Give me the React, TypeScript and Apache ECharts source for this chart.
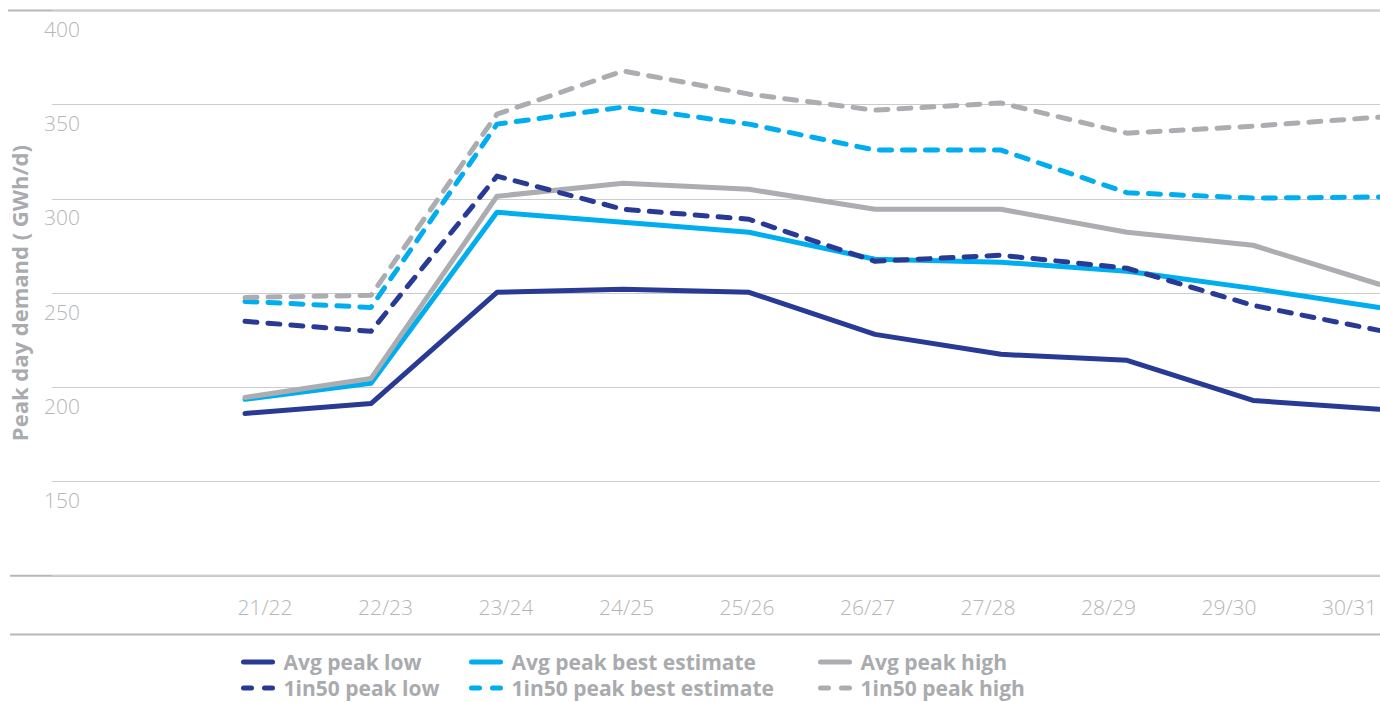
import React, { useEffect, useRef } from "react";
import * as echarts from "echarts";

const categories = ["21/22", "22/23", "23/24", "24/25", "25/26", "26/27", "27/28", "28/29", "29/30", "30/31"];
const avgPeakLow = [186.1, 191.4, 250.4, 252.0, 250.4, 228.1, 217.5, 214.3, 193.0, 188.3];
const avgPeakBest = [193.6, 202.1, 292.9, 287.6, 282.3, 268.0, 266.4, 261.6, 252.5, 242.4];
const avgPeakHigh = [194.6, 204.7, 301.4, 308.3, 305.1, 294.5, 294.5, 282.3, 275.4, 254.7];
const in50PeakLow = [235.0, 229.7, 312.1, 294.5, 289.2, 266.9, 270.1, 263.2, 243.5, 230.2];
const in50PeakBest = [245.6, 242.4, 339.7, 348.7, 339.7, 325.9, 325.9, 303.3, 300.4, 301.0];
const in50PeakHigh = [247.7, 248.8, 345.0, 367.9, 355.6, 347.1, 350.9, 334.9, 338.6, 343.4];

const seriesNames = [
  "Avg peak low",
  "Avg peak best estimate",
  "Avg peak high",
  "1in50 peak low",
  "1in50 peak best estimate",
  "1in50 peak high",
];
const seriesData = [avgPeakLow, avgPeakBest, avgPeakHigh, in50PeakLow, in50PeakBest, in50PeakHigh];

const NAVY = "#283a94";
const CYAN = "#00aeef";
const GREY = "#abadb0";
const seriesColors = [NAVY, CYAN, GREY, NAVY, CYAN, GREY];
const seriesDashed = [false, false, false, true, true, true];

const FONT = "'Open Sans', 'Noto Sans', sans-serif";
const LABEL_GREY = "#b4b6b8";
const TEXT_GREY = "#a9abae";

export default function App() {
  const ref = useRef<HTMLDivElement>(null);

  useEffect(() => {
    if (!ref.current) return;
    const chart = echarts.init(ref.current, undefined, { renderer: "svg" });

    const top = 10.5;
    const bottom = 702 - 575.7;

    const legendLefts = [241, 469, 818];
    const legendTops = [651, 677];

    const option: any = {
      animation: false,
      backgroundColor: "#ffffff",
      textStyle: { fontFamily: FONT },
      grid: [
        { left: 45, right: 0, top, bottom, containLabel: false },
        { left: 245, right: 1, top, bottom, containLabel: false },
        { left: 265, right: 24, top, bottom, containLabel: false },
      ],
      xAxis: [
        { type: "value", gridIndex: 0, show: false, min: 0, max: 1 },
        {
          type: "category",
          gridIndex: 1,
          data: categories,
          boundaryGap: false,
          show: false,
        },
        {
          type: "category",
          gridIndex: 2,
          data: categories,
          boundaryGap: false,
          axisLine: { show: false },
          axisTick: { show: false },
          splitLine: { show: false },
          axisLabel: {
            show: true,
            interval: 0,
            margin: 21,
            color: LABEL_GREY,
            fontSize: 21,
            fontWeight: 300,
            fontFamily: FONT,
          },
        },
      ],
      yAxis: [
        {
          type: "value",
          gridIndex: 0,
          min: 100,
          max: 400,
          interval: 50,
          axisLine: { show: false },
          axisTick: { show: false },
          splitLine: { show: true, lineStyle: { color: "#cbcccd", width: 1 } },
          axisLabel: {
            inside: true,
            margin: -8,
            align: "left",
            verticalAlign: "top",
            padding: [8, 0, 0, 0],
            color: LABEL_GREY,
            fontSize: 21,
            fontWeight: 300,
            fontFamily: FONT,
            formatter: (v: number) => (v === 100 ? "" : String(v)),
          },
          name: "Peak day demand ( GWh/d)",
          nameLocation: "middle",
          nameGap: 22,
          nameRotate: 90,
          nameTextStyle: {
            color: TEXT_GREY,
            fontSize: 22,
            fontWeight: "bold",
            fontFamily: FONT,
          },
        },
        { type: "value", gridIndex: 1, min: 100, max: 400, show: false },
        { type: "value", gridIndex: 2, min: 100, max: 400, show: false },
      ],
      legend: seriesNames.map((name, i) => ({
        show: true,
        data: [name],
        left: legendLefts[i % 3],
        top: legendTops[Math.floor(i / 3)],
        orient: "horizontal",
        itemWidth: 29,
        itemHeight: 5,
        padding: 0,
        selectedMode: false,
        itemStyle: { opacity: 0, borderWidth: 0 },
        lineStyle: {
          width: 5,
          cap: "round",
          color: seriesColors[i],
          type: seriesDashed[i] ? [8, 13] : "solid",
        },
        textStyle: {
          color: TEXT_GREY,
          fontSize: 21,
          lineHeight: 22,
          fontWeight: "bold",
          fontFamily: FONT,
          padding: [0, 0, 0, 6],
        },
      })),
      graphic: [
        { type: "line", shape: { x1: 8, y1: 10.5, x2: 1380, y2: 10.5 }, style: { stroke: "#b5b7b9", lineWidth: 2 } },
        { type: "line", shape: { x1: 10, y1: 575.7, x2: 1380, y2: 575.7 }, style: { stroke: "#b5b7b9", lineWidth: 2 } },
        { type: "line", shape: { x1: 10, y1: 634.5, x2: 1380, y2: 634.5 }, style: { stroke: "#b5b7b9", lineWidth: 2 } },
      ],
      series: seriesNames.map((name, i) => ({
        name,
        type: "line",
        xAxisIndex: 1,
        yAxisIndex: 1,
        data: seriesData[i],
        symbol: "none",
        showSymbol: false,
        color: seriesColors[i],
        lineStyle: {
          color: seriesColors[i],
          width: 5,
          type: seriesDashed[i] ? [12, 11] : "solid",
          cap: "round",
          join: "round",
        },
        itemStyle: { color: seriesColors[i] },
        z: 2 + i,
      })),
    };

    chart.setOption(option);
    return () => chart.dispose();
  }, []);

  return (
    <div
      ref={ref}
      style={{ position: "fixed", left: 0, top: 0, width: 1380, height: 702, background: "#fff" }}
    />
  );
}
